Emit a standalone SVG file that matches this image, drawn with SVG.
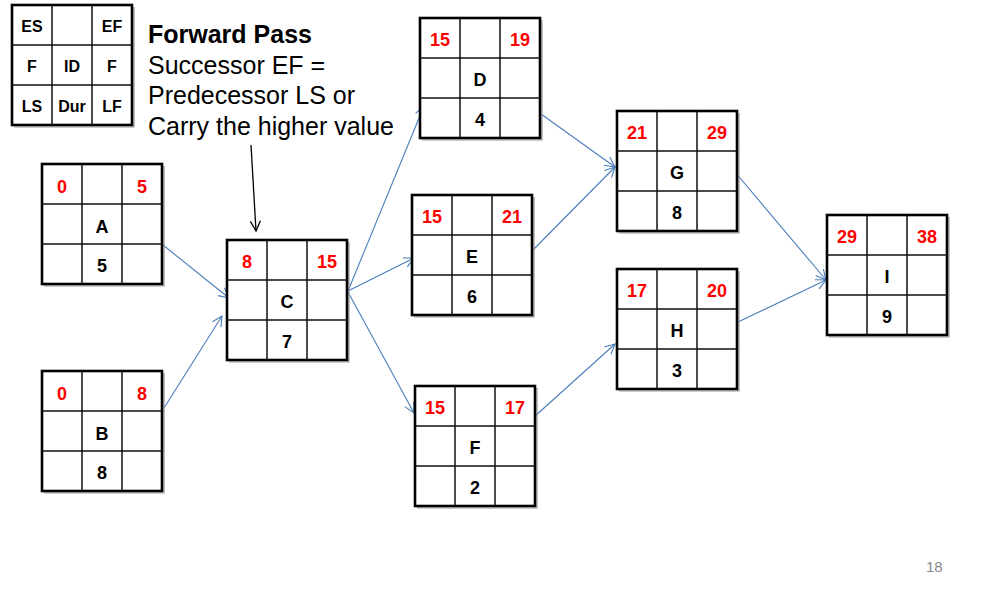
<svg xmlns="http://www.w3.org/2000/svg" xmlns:xlink="http://www.w3.org/1999/xlink" width="990" height="597" viewBox="0 0 990 597">
  <style>
    .frame { fill: #ffffff; stroke: #000000; stroke-width: 2.6; }
    .shade { fill: none; stroke: #9a9a9a; stroke-width: 1.2; }
    .inner { stroke: #111111; stroke-width: 1.5; }
    .es { font-family: "Liberation Sans", Arial, sans-serif; font-weight: bold; font-size: 18px; fill: #ff0000; text-anchor: middle; }
    .lbl { font-family: "Liberation Sans", Arial, sans-serif; font-weight: bold; font-size: 18px; fill: #000000; text-anchor: middle; }
    .key { font-family: "Liberation Sans", Arial, sans-serif; font-weight: bold; font-size: 16px; fill: #000000; text-anchor: middle; }
    .note { font-family: "Liberation Sans", Arial, sans-serif; font-size: 25px; fill: #000000; }
    .note-b { font-weight: bold; }
    .link { fill: none; stroke: #4a7ebb; stroke-width: 1.1; marker-end: url(#open-blue); }
    .pointer { fill: none; stroke: #000000; stroke-width: 1.3; marker-end: url(#open-black); }
    .page { font-family: "Liberation Sans", Arial, sans-serif; font-size: 15px; fill: #898989; }
  </style>
  <defs>
    <marker id="open-blue" markerUnits="userSpaceOnUse" markerWidth="14" markerHeight="14" viewBox="0 0 14 14" refX="12" refY="7" orient="auto">
      <path d="M2,2 L12,7 L2,12" fill="none" stroke="#4a7ebb" stroke-width="1.1"/>
    </marker>
    <marker id="open-black" markerUnits="userSpaceOnUse" markerWidth="14" markerHeight="14" viewBox="0 0 14 14" refX="12" refY="7" orient="auto">
      <path d="M2,2 L12,7 L2,12" fill="none" stroke="#000000" stroke-width="1.3"/>
    </marker>
    <!-- 3x3 activity box, 40px cells -->
    <g id="grid">
      <path class="shade" d="M2,122 H122 V2"/>
      <rect class="frame" x="0" y="0" width="120" height="120"/>
      <path class="inner" d="M40,0 V120 M80,0 V120 M0,40 H120 M0,80 H120"/>
    </g>
  </defs>

  <rect width="990" height="597" fill="#ffffff"/>

  <!-- legend box -->
  <g id="legend">
    <use xlink:href="#grid" x="12" y="5"/>
    <text class="key" x="32" y="32">ES</text>
    <text class="key" x="112" y="32">EF</text>
    <text class="key" x="32" y="72">F</text>
    <text class="key" x="72" y="72">ID</text>
    <text class="key" x="112" y="72">F</text>
    <text class="key" x="32" y="112">LS</text>
    <text class="key" x="72" y="112">Dur</text>
    <text class="key" x="112" y="112">LF</text>
  </g>

  <!-- rule note -->
  <g id="note">
    <text class="note note-b" x="148" y="43">Forward Pass</text>
    <text class="note" x="148" y="74">Successor EF =</text>
    <text class="note" x="148" y="104">Predecessor LS or</text>
    <text class="note" x="148" y="135">Carry the higher value</text>
  </g>

  <!-- connectors -->
  <g id="connectors">
    <path class="pointer" d="M251,145 L256,231"/>
    <path class="link" d="M163,245 L229,298"/>
    <path class="link" d="M164,408 L222,316"/>
    <path class="link" d="M348,291 L424,106"/>
    <path class="link" d="M348,291 L414,258"/>
    <path class="link" d="M348,292 L414,413"/>
    <path class="link" d="M541,114 L615,167"/>
    <path class="link" d="M533,250 L615,167"/>
    <path class="link" d="M534,417 L615,344"/>
    <path class="link" d="M735,172 L826,280"/>
    <path class="link" d="M738,322 L826,280"/>
  </g>

  <!-- activities -->
  <g id="node-A">
    <use xlink:href="#grid" x="42" y="164"/>
    <text class="es" x="62" y="193">0</text>
    <text class="es" x="142" y="193">5</text>
    <text class="lbl" x="102" y="233">A</text>
    <text class="lbl" x="102" y="272">5</text>
  </g>
  <g id="node-B">
    <use xlink:href="#grid" x="42" y="371"/>
    <text class="es" x="62" y="400">0</text>
    <text class="es" x="142" y="400">8</text>
    <text class="lbl" x="102" y="440">B</text>
    <text class="lbl" x="102" y="479">8</text>
  </g>
  <g id="node-C">
    <use xlink:href="#grid" x="227" y="240"/>
    <text class="es" x="247" y="268">8</text>
    <text class="es" x="327" y="268">15</text>
    <text class="lbl" x="287" y="308">C</text>
    <text class="lbl" x="287" y="348">7</text>
  </g>
  <g id="node-D">
    <use xlink:href="#grid" x="420" y="18"/>
    <text class="es" x="440" y="46">15</text>
    <text class="es" x="520" y="46">19</text>
    <text class="lbl" x="480" y="86">D</text>
    <text class="lbl" x="480" y="126">4</text>
  </g>
  <g id="node-E">
    <use xlink:href="#grid" x="412" y="195"/>
    <text class="es" x="432" y="223">15</text>
    <text class="es" x="512" y="223">21</text>
    <text class="lbl" x="472" y="263">E</text>
    <text class="lbl" x="472" y="303">6</text>
  </g>
  <g id="node-F">
    <use xlink:href="#grid" x="415" y="386"/>
    <text class="es" x="435" y="414">15</text>
    <text class="es" x="515" y="414">17</text>
    <text class="lbl" x="475" y="454">F</text>
    <text class="lbl" x="475" y="494">2</text>
  </g>
  <g id="node-G">
    <use xlink:href="#grid" x="617" y="111"/>
    <text class="es" x="637" y="139">21</text>
    <text class="es" x="717" y="139">29</text>
    <text class="lbl" x="677" y="179">G</text>
    <text class="lbl" x="677" y="219">8</text>
  </g>
  <g id="node-H">
    <use xlink:href="#grid" x="617" y="269"/>
    <text class="es" x="637" y="297">17</text>
    <text class="es" x="717" y="297">20</text>
    <text class="lbl" x="677" y="337">H</text>
    <text class="lbl" x="677" y="377">3</text>
  </g>
  <g id="node-I">
    <use xlink:href="#grid" x="827" y="215"/>
    <text class="es" x="847" y="243">29</text>
    <text class="es" x="927" y="243">38</text>
    <text class="lbl" x="887" y="283">I</text>
    <text class="lbl" x="887" y="323">9</text>
  </g>

  <text class="page" x="926" y="572">18</text>
</svg>
